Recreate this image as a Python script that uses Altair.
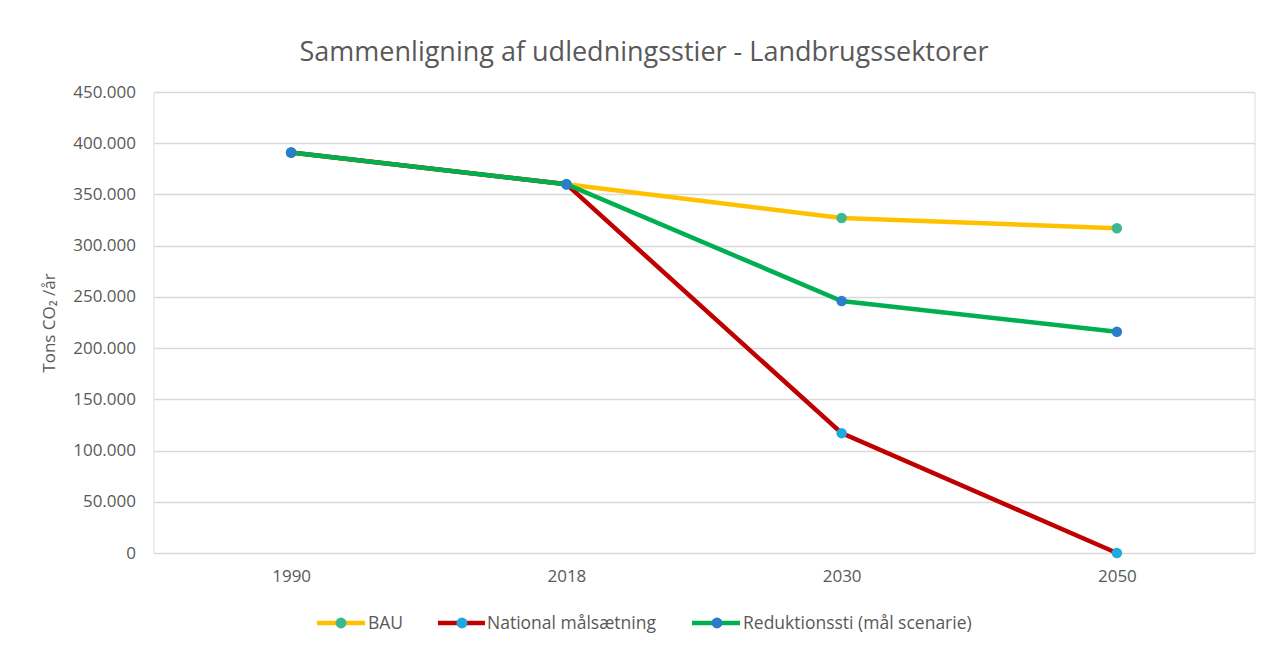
import altair as alt
import pandas as pd

years = ["1990", "2018", "2030", "2050"]
series_names = ["BAU", "National målsætning", "Reduktionssti (mål scenarie)"]
bau = [391000, 360000, 327000, 317000]
national = [391000, 360000, 117000, 0]
reduktion = [391000, 360000, 246000, 216000]
line_colors = ["#FFC000", "#C00000", "#00B050"]
marker_colors = ["#3DB88E", "#1FA9E1", "#2A7DC8"]
y_ticks = [0, 50000, 100000, 150000, 200000, 250000, 300000, 350000, 400000, 450000]

rows = []
for order, (name, vals) in enumerate(zip(series_names, [bau, national, reduktion])):
    for yr, v in zip(years, vals):
        rows.append({"Serie": name, "År": yr, "Værdi": v, "ord": order})
df = pd.DataFrame(rows)

FONT = "Open Sans"
LEG_FONT = "Open Sans"
GREY = "#595959"

x_enc = alt.X("År:O", sort=years,
              scale=alt.Scale(type="point", padding=0.5),
              axis=alt.Axis(title=None, labelAngle=0, labelFontSize=17, labelColor=GREY,
                            labelFont=FONT, ticks=False, domain=False, labelPadding=15,
                            grid=False))
y_enc = alt.Y("Værdi:Q",
              scale=alt.Scale(domain=[0, 450000], nice=False),
              axis=alt.Axis(title="Tons CO₂ /år", values=y_ticks,
                            labelExpr="replace(format(datum.value, ',.0f'), /,/g, '.')",
                            labelFontSize=17, labelColor=GREY, labelFont=FONT,
                            titleFontSize=17, titleFont=FONT, titleColor=GREY,
                            titleFontWeight="normal", titlePadding=14,
                            ticks=False, domain=False, labelPadding=18,
                            gridColor="#D9D9D9", gridWidth=1.3))

layers = []
for i, name in enumerate(series_names):
    sub = df[df["Serie"] == name]
    base = alt.Chart(sub)
    layers.append(base.mark_line(color=line_colors[i], strokeWidth=4.5).encode(x=x_enc, y=y_enc))
    layers.append(base.mark_point(filled=True, opacity=1, color=marker_colors[i],
                                  size=110).encode(x=x_enc, y=y_enc))

# legend (page pixel positions converted relative to the plot's left/top edge)
PL = 145.5
PT = 84
leg_x0 = [317, 438, 692]
leg_x1 = [365, 485, 740]
leg_xc = [341, 462, 717]
leg_xt = [368, 487, 743]
LEG_Y = 623 - 8 - PT
legend_layers = []
for i, name in enumerate(series_names):
    b = alt.Chart(pd.DataFrame({"Serie": [name]}))
    legend_layers.append(b.mark_rule(color=line_colors[i], strokeWidth=4.5).encode(
        x=alt.value(leg_x0[i] - PL - 8), x2=alt.value(leg_x1[i] - PL - 8), y=alt.value(LEG_Y)))
    legend_layers.append(b.mark_point(filled=True, opacity=1, color=marker_colors[i], size=120).encode(
        x=alt.value(leg_xc[i] - PL - 8), y=alt.value(LEG_Y)))
    legend_layers.append(b.mark_text(align="left", baseline="middle", font=LEG_FONT, fontSize=17.5,
                                     color=GREY).encode(
        x=alt.value(leg_xt[i] - PL - 8), y=alt.value(LEG_Y + 1), text="Serie:N"))

chart = alt.layer(*layers, *legend_layers).properties(
    width=1101, height=461,
    title=alt.TitleParams("Sammenligning af udledningsstier - Landbrugssektorer",
                          font=FONT, fontSize=27, fontWeight="normal", color=GREY,
                          anchor="middle", dx=-60, offset=16),
    autosize=alt.AutoSizeParams(type="none"),
    padding={"left": PL, "top": PT, "right": 15, "bottom": 92},
).configure_view(stroke=None).configure(background="white")

chart.save("out.html", embed_options={"renderer": "svg", "actions": False})
